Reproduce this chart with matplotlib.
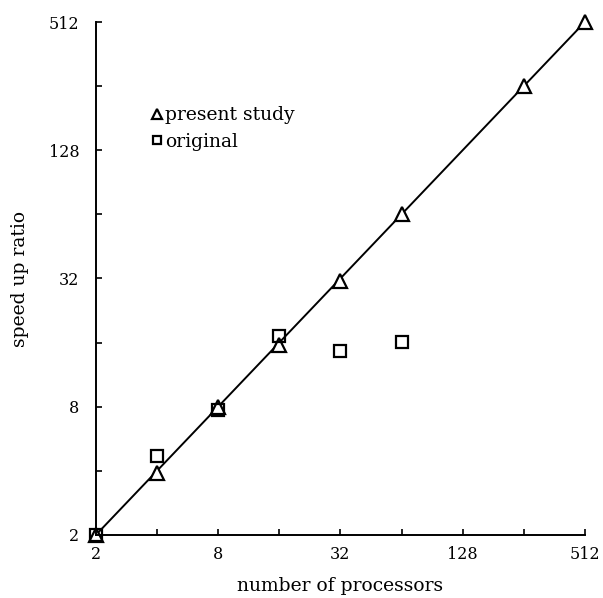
import numpy as np
import matplotlib.pyplot as plt
from matplotlib.ticker import NullFormatter

# datos
procesadores = [2, 4, 8, 16, 32, 64, 256, 512]
presente = [2, 3.9, 8, 15.6, 31, 64, 256, 512]

proc_original = [2, 4, 8, 16, 32, 64]
original = [2, 4.7, 7.7, 17.2, 14.6, 16.1]

ideal_x = [2, 512]
ideal_y = [2, 512]

ticks = [2, 8, 32, 128, 512]
ticks_menores = [4, 16, 64, 256]

plt.rcParams['font.family'] = ['DejaVu Serif']

fig = plt.figure(figsize=(6.03, 5.98), dpi=100)
ax = fig.add_axes([0.159, 0.1054, 0.811, 0.8578])

ax.plot(ideal_x, ideal_y, color='black', lw=1.4)
ax.plot(procesadores, presente, linestyle='none', marker='^', ms=10,
        mfc='white', mec='black', mew=1.6, label='present study', clip_on=False)
ax.plot(proc_original, original, linestyle='none', marker='s', ms=9,
        mfc='none', mec='black', mew=1.6, label='original', clip_on=False)

ax.set_xscale('log', base=2)
ax.set_yscale('log', base=2)
ax.set_xlim(2, 512)
ax.set_ylim(2, 512)
ax.set_xticks(ticks)
ax.set_xticklabels([str(t) for t in ticks])
ax.set_yticks(ticks)
ax.set_yticklabels([str(t) for t in ticks])
ax.set_xticks(ticks_menores, minor=True)
ax.set_yticks(ticks_menores, minor=True)
ax.xaxis.set_minor_formatter(NullFormatter())
ax.yaxis.set_minor_formatter(NullFormatter())
ax.tick_params(which='both', direction='in', length=4, width=1.2, labelsize=11.5)
ax.tick_params(axis='x', which='both', pad=8)
ax.tick_params(axis='y', which='both', pad=12)

for lado in ['top', 'right']:
    ax.spines[lado].set_visible(False)
for lado in ['left', 'bottom']:
    ax.spines[lado].set_linewidth(1.4)

ax.set_xlabel('number of processors', fontsize=13.5, labelpad=10)
ax.set_ylabel('speed up ratio', fontsize=13.5, labelpad=14)

ax.legend(loc='upper left', bbox_to_anchor=(0.1, 0.85), frameon=False,
          fontsize=13.5, markerscale=0.7, handlelength=0.5, handletextpad=0.2,
          labelspacing=0.45, borderaxespad=0)

fig.savefig('out.png', dpi=100)
